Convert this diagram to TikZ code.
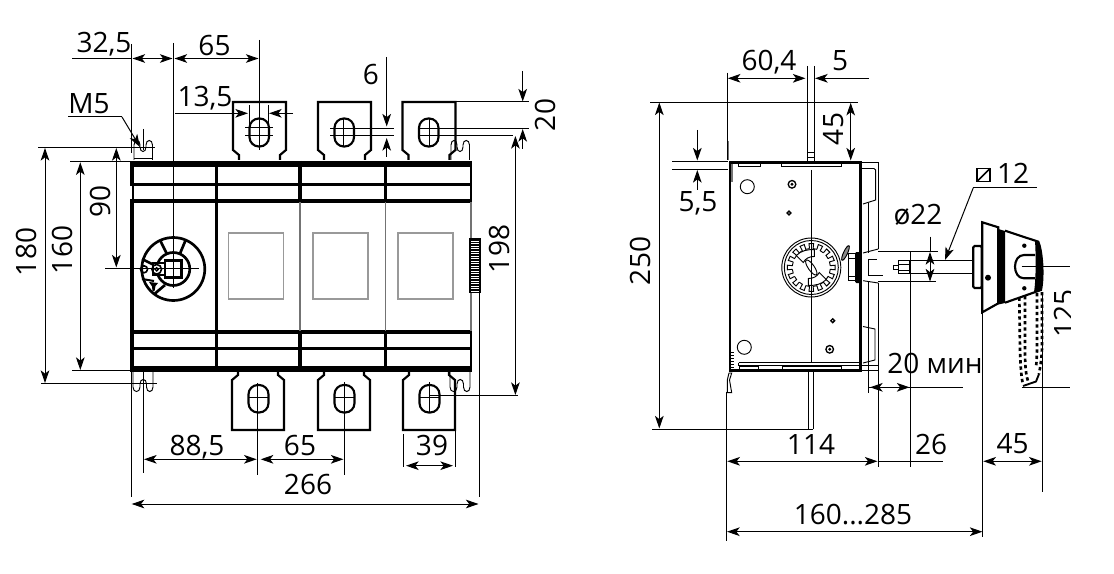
\documentclass[tikz,border=0pt]{standalone}
\usepackage{fontspec}
\setmainfont{Open Sans}
\usetikzlibrary{arrows.meta,positioning}

\begin{document}
\begin{tikzpicture}[x=0.75pt,y=-0.75pt,>={Stealth[length=9.5pt,width=6.5pt,inset=2.5pt]}]
\tikzstyle{dim line}=[line width=0.75pt]
\tikzstyle{dim arrow}=[line width=0.75pt,<->]
\tikzstyle{thin part}=[line width=0.7pt]
\tikzstyle{part}=[line width=1.6pt]
\tikzstyle{knob part}=[line width=2pt]

\tikzset{
	dim label/.style={inner sep=0,text height=15.5pt,text depth=0pt,font=\fontsize{21}{24}\selectfont},
	side label/.style={dim label,rotate=90},
	grey part/.style={line width=0.8pt,draw=black!55},
	window/.style={line width=1pt,draw=black!40},
	dashed handle/.style={line width=2pt,dash pattern=on 2.5pt off 2.2pt}
}

\useasboundingbox (0,0) rectangle (1114,574);

% front view, body
\foreach \by/\bw in {164/5pt,184.5/2.8pt,200.7/3pt,332/2.5pt,348.5/2.3pt,369/4pt}
	\draw[line width=\bw] (130,\by) -- (472,\by);
\draw[line width=3pt] (132,161) -- (132,186);
\draw[line width=1.8pt] (133,186) -- (133,199);
\draw[line width=3pt] (132,199) -- (132,371);
\draw[line width=2.3pt] (216.5,161) -- (216.5,371);
\foreach \bx in {300,385.5} {
	\draw[line width=2.5pt] (\bx,161) -- (\bx,202);
	\draw[line width=2.5pt] (\bx,331) -- (\bx,371);
	\draw[grey part] (\bx,202) -- (\bx,331);
}
\draw[line width=2pt] (471,161) -- (471,202);
\draw[line width=2pt] (471,331) -- (471,371);
\draw[grey part] (471,202) -- (471,331);
\foreach \wx in {228.5,313,398}
	\draw[window] (\wx,233) rectangle (\wx+55,299);

\fill (469,238) rectangle (481,293);
\foreach \ty in {241,243.5,...,291}
	\draw[white,line width=0.6pt] (471,\ty) -- (479,\ty);

% terminals
\foreach \lx in {233,318,402.5} {
	\draw[part] (\lx+6,160) -- (\lx+6,155) -- (\lx,150) -- (\lx,102) -- (\lx+53,102) -- (\lx+53,150) -- (\lx+47,155) -- (\lx+47,160);
	\draw[part,rounded corners=7pt] (\lx+16.5,118.5) rectangle (\lx+36,146.5);
}
\foreach \lx in {232,318,403} {
	\draw[part] (\lx+6,371) -- (\lx+6,375) -- (\lx,380) -- (\lx,430) -- (\lx+52,430) -- (\lx+52,380) -- (\lx+46,375) -- (\lx+46,371);
	\draw[part,rounded corners=7pt] (\lx+16.5,385) rectangle (\lx+36.5,412.5);
	\draw[thin part] (\lx+17,397) -- (\lx+36,397);
}

% clips
\foreach \cx in {133,450} {
	\draw[thin part] (\cx,372) -- (\cx,387) .. controls (\cx,393) and (\cx+7,393) .. (\cx+7,387) -- (\cx+7,384) .. controls (\cx+7,378) and (\cx+13.5,378) .. (\cx+13.5,384) -- (\cx+13.5,387) .. controls (\cx+13.5,393) and (\cx+20,393) .. (\cx+20,387) -- (\cx+20,372);
	\draw[thin part] (\cx+1,160) -- (\cx+1,145) .. controls (\cx+1,139) and (\cx+7,139) .. (\cx+7,145) -- (\cx+7,147) .. controls (\cx+7,153) and (\cx+13,153) .. (\cx+13,147) -- (\cx+13,145) .. controls (\cx+13,139) and (\cx+19.5,139) .. (\cx+19.5,145) -- (\cx+19.5,160);
}
\draw[thin part] (134,158) -- (152,158);

% knob
\draw[knob part] (173.3,269) circle (31.5);
\draw[knob part] (173.3,269) circle (16.5);
\draw[fill=white,line width=1.5pt] (153.3,263.3) rectangle (165,275);
\draw[knob part] (165,260.5) rectangle (181.5,277.5);
\draw[knob part] (160,240) -- (166.7,253.5);
\draw[knob part] (185.7,240) -- (180,253.5);
\draw[knob part] (142,259) -- (154,265);
\draw[knob part] (155,293.5) -- (165,285);
\draw[line width=1.5pt] (142,279) -- (154,281);
\draw[line width=1.2pt] (144,269.3) circle (3.5);
\draw[line width=1.2pt] (156.7,269.3) circle (4.8);
\draw[line width=1pt] (156.7,269.3) circle (1.6);
\fill (149,282) -- (158,283) -- (155.5,286) -- (154.5,291) -- (152.5,291) -- (152,286.5) -- cycle;

% front view, dimensions
\draw[dim line] (72,58.5) -- (132,58.5);
\draw[dim arrow] (132.5,58.5) -- (172.5,58.5);
\draw[dim arrow] (174.5,58.5) -- (258.5,58.5);
\draw[dim line] (131.7,44) -- (131.7,153);
\draw[dim line] (131.7,372) -- (131.7,497);
\draw[dim line] (173.3,43) -- (173.3,288);
\draw[dim line] (259,40) -- (259,150);
\draw[->,dim line] (175,113.3) -- (248,113.3);
\draw[->,dim line] (293,113.3) -- (269,113.3);
\draw[dim line] (249.5,105) -- (249.5,137);
\draw[dim line] (268,105) -- (268,137);
\draw[dim line] (245,128) -- (273,128);
\draw[dim line] (245,136) -- (273,136);
\draw[dim line] (343.3,118) -- (343.3,147);
\draw[dim line] (330,128.3) -- (394,128.3);
\draw[dim line] (330,136) -- (394,136);
\draw[dim line] (429,119) -- (429,147);
\draw[->,dim line] (386.7,57) -- (386.7,126.5);
\draw[->,dim line] (386.7,157) -- (386.7,138);
\draw[dim line] (455,102) -- (529,102);
\draw[dim line] (420,128.3) -- (529,128.3);
\draw[dim line] (420,136) -- (513,136);
\draw[->,dim line] (522.7,71) -- (522.7,101.5);
\draw[->,dim line] (522.7,149) -- (522.7,129);
\draw[dim arrow] (515.4,136) -- (515.4,395);
\draw[dim line] (429.5,395) -- (518,395);
\draw[dim line] (38,147.5) -- (155,147.5);
\draw[dim line] (41,383) -- (157,383);
\draw[dim line] (70,162) -- (130,162);
\draw[dim line] (72,370) -- (130,370);
\draw[dim line] (105,268.5) -- (199,268.5);
\draw[dim arrow] (45,148) -- (45,383);
\draw[dim arrow] (80.3,162.3) -- (80.3,370);
\draw[dim arrow] (116.3,148) -- (116.3,267.5);
\draw[dim line] (68,117) -- (122,117);
\draw[->,dim line] (122,117) -- (140,147);
\draw[dim line] (143.5,129) -- (143.5,150);
\draw[dim line] (143.3,372) -- (143.3,473);
\draw[dim line] (257.5,383) -- (257.5,475);
\draw[dim line] (344.5,382) -- (344.5,475);
\draw[dim line] (429.5,382) -- (429.5,412);
\draw[dim arrow] (144,459.3) -- (256.7,459.3);
\draw[dim arrow] (260.7,459.3) -- (343.5,459.3);
\draw[dim line] (403.5,434) -- (403.5,467);
\draw[dim line] (455.5,430) -- (455.5,467);
\draw[dim arrow] (406,465.7) -- (453,465.7);
\draw[dim line] (479.3,293) -- (479.3,497);
\draw[dim arrow] (131.7,504) -- (478.5,504);

\node[dim label] (l325) at (104,42) {32,5};
\node[dim label] (l65a) at (214.5,45) {65};
\node[dim label] (l135) at (205,96) {13,5};
\node[dim label] (lm5) at (89,103) {M5};
\node[dim label] (l6) at (371,74) {6};
\node[side label] (l20) at (545,115) {20};
\node[side label] (l198) at (499,249) {198};
\node[side label] (l90) at (100,201.5) {90};
\node[side label] (l160) at (62,250) {160};
\node[side label] (l180) at (26,252) {180};
\node[dim label] (l885) at (197,445) {88,5};
\node[dim label] (l65b) at (300,445) {65};
\node[dim label] (l39) at (432,445) {39};
\node[dim label] (l266) at (308,484) {266};

% side view, body
\draw[line width=2.5pt] (729.7,162.5) -- (860.5,162.5);
\draw[line width=2.5pt] (729.7,370.5) -- (860.5,370.5);
\draw[line width=2.1pt] (730,161.5) -- (730,371.5);
\draw[line width=2.1pt] (860.3,161.5) -- (860.3,371.5);
\draw[grey part,line width=1.4pt] (728.3,141) -- (728.3,160);
\draw[grey part,line width=1.4pt] (732,164) -- (732,182);
\foreach \my in {352,355,...,367}
	\draw[thin part] (731,\my) -- (733.5,\my);
\draw[thin part] (738.5,164) -- (738.5,166.5) -- (760,166.5) -- (760,164);
\draw[thin part] (781.7,164) -- (781.7,166.5) -- (841.7,166.5) -- (841.7,164);
\draw[thin part] (738.5,362.7) -- (859,362.7);
\draw[thin part] (738.5,362.7) -- (738.5,365) -- (859,365);
\draw[thin part] (739,369) -- (739,366.5) -- (758,366.5) -- (758,369);
\draw[thin part] (782.7,369) -- (782.7,366.5) -- (841.7,366.5) -- (841.7,369);
\draw[thin part] (727.3,392.7) -- (727.3,380) -- (729,373) -- (731.7,373) -- (729.5,380) -- (731.7,392.7) -- cycle;
\draw[thin part] (747.3,186.7) circle (7);
\draw[thin part] (744.3,347.3) circle (7);
\foreach \sx/\sy in {792/184.3,829.7/349.3} {
	\draw[line width=1pt] (\sx,\sy) circle (3.8);
	\fill (\sx,\sy) circle (1.6);
}
\draw[line width=1pt] (789,213) circle (1.9);
\draw[line width=1pt] (832.7,320.7) circle (1.9);

% gear
\begin{scope}[shift={(811.3,267.5)}]
\draw[thin part] (0,0) circle (29.5);
\draw[thin part] (0,0) circle (27);
\foreach \ga in {0,22.5,...,337.5}
	\draw[thin part] ({\ga-5.5}:19) -- ({\ga-5.5}:24) -- ({\ga+5.5}:24) -- ({\ga+5.5}:19) -- ({\ga+17}:19);
\draw[thin part,fill=white] (-15,-12) .. controls (-10,-17) and (-4,-18) .. (3,-18) -- (3,-11) .. controls (-2,-11) and (-6,-9) .. (-8,-5) -- cycle;
\draw[thin part,fill=white] (15,12) .. controls (10,17) and (4,18) .. (-3,18) -- (-3,11) .. controls (2,11) and (6,9) .. (8,5) -- cycle;
\draw[thin part,fill=white,rotate=-55] (0,0) ellipse (9 and 3);
\end{scope}

% side plate and shaft
\draw[thin part] (861.7,162.7) -- (878.3,162.7) -- (878.3,249);
\draw[thin part] (862,168.5) -- (874,168.5) -- (875.7,170) -- (875.7,200) -- (863,204);
\draw[thin part] (863,326.5) -- (875,329) -- (875,360) -- (863,363);
\draw[thin part] (862,365) -- (878.3,365);
\draw[thin part] (878.3,283) -- (878.3,370) -- (861,370);
\draw[thin part] (863,253) -- (878.3,249);
\draw[thin part] (863,280.7) -- (878.3,283);
\draw[dim line] (868.3,203) -- (868.3,253);
\draw[dim line] (868.3,281) -- (868.3,392.5);
\draw[dim line] (878.3,370) -- (878.3,466.7);
\draw[dim line] (878.3,251) -- (910,251);
\draw[dim line] (878.3,281.7) -- (936,281.7);
\draw[dim line] (910.3,251) -- (910.3,466.7);
\draw[dim line] (910,251.7) -- (937.7,251.7);
\draw[dim line] (910,260) -- (973,260);
\draw[dim line] (910,273.3) -- (973,273.3);
\draw[thin part] (868.3,259.5) -- (877,259.5);
\draw[thin part] (868.3,260) -- (868.3,276);
\draw[thin part] (868.3,275) -- (882.5,275);
\draw[thin part] (898.5,260) rectangle (909,273.3);
\draw[thin part] (893.5,265) rectangle (898.5,269.5);
\draw[thin part] (898.5,264) -- (909,264);
\draw[thin part] (898.5,270) -- (909,270);
\fill[rounded corners=1pt] (855,252) rectangle (861.7,283);
\draw[thin part] (848,253) rectangle (855,280);
\draw[thin part] (848,258) -- (855,258);
\draw[thin part] (848,276) -- (855,276);
\draw[thin part,fill=black!45,rotate around={-25:(845.5,253)}] (845.5,253) ellipse (2 and 8);

% handle
\draw[part,rounded corners=1pt] (973.3,246) rectangle (981.7,288);
\draw[part,fill=white] (982.3,222.3) -- (998.3,227.3) -- (998.3,303.3) -- (982.3,312.3) -- cycle;
\fill (998.3,229) -- (1005,231) -- (1005,303) -- (998.3,304.5) -- cycle;
\draw[part] (1005,230.7) -- (1038.3,241.7) .. controls (1042,250) and (1044,275) .. (1041,290) -- (1005,302.7);
\fill (1038,241.7) .. controls (1042.5,250) and (1044.5,275) .. (1041,290) -- (1034,292) .. controls (1036,280) and (1036,255) .. (1035,240.7) -- cycle;
\draw[part] (1035,255) -- (1024,255) .. controls (1012,255) and (1012,278.3) .. (1024,278.3) -- (1035,278.3);
\fill (1024.3,245.7) circle (2.2);
\fill (1024.3,288.3) circle (2.2);
\fill (988,277.7) circle (3);
\draw[dashed handle] (1019.3,297.5) -- (1020,350) .. controls (1020.5,365) and (1021,375) .. (1023,385);
\draw[dashed handle] (1025,296) -- (1025,345) .. controls (1025,360) and (1025,372) .. (1028,381);
\draw[dashed handle] (1042,292) -- (1042,345) .. controls (1042,358) and (1040,368) .. (1039,374);
\draw[dashed handle] (1037,293) -- (1037,345) .. controls (1037,355) and (1036.5,362) .. (1036,368);
\draw[line width=1.4pt] (1023,386) -- (1036,381.5) -- (1039,374);

% side view, dimensions
\draw[dim line] (727.3,72.7) -- (727.3,160);
\draw[dim line] (807.3,66) -- (807.3,161);
\draw[dim line] (814.3,66) -- (814.3,161);
\draw[line width=1.2pt] (807.3,102) -- (807.3,122);
\draw[line width=1.2pt] (814.3,102) -- (814.3,122);
\draw[thin part] (807.3,152) -- (814.3,152);
\draw[thin part] (807.3,157) -- (814.3,157);
\draw[dim arrow] (727.8,78.3) -- (805.5,78.3);
\draw[->,dim line] (869,78.3) -- (815,78.3);
\draw[dim line] (811.7,170) -- (811.7,362);
\draw[dim line] (808.3,372) -- (808.3,429.3);
\draw[dim line] (813.3,372) -- (813.3,429.3);
\draw[dim line] (650,102.3) -- (857.7,102.3);
\draw[dim line] (652,429.3) -- (813.3,429.3);
\draw[dim arrow] (659.3,102.5) -- (659.3,428.5);
\draw[dim arrow] (850.7,102.8) -- (850.7,160.5);
\draw[dim line] (672,161.3) -- (728,161.3);
\draw[dim line] (672,169.3) -- (728,169.3);
\draw[->,dim line] (697.3,130) -- (697.3,160.5);
\draw[->,dim line] (697.3,190) -- (697.3,170);
\draw[dim line] (930,236.7) -- (930,251.7);
\draw[dim arrow] (930,252) -- (930,281.5);
\draw[dim line] (973.3,187.7) -- (1036.7,187.7);
\draw[->,dim line] (973.3,187.7) -- (945,260);
\draw[dim line] (982.5,312) -- (982.5,536.7);
\draw[dim line] (1042.5,293) -- (1042.5,491.7);
\draw[dim line] (1021.7,266.7) -- (1070,266.7);
\draw[dim line] (1021.7,387.3) -- (1070,387.3);
\draw[dim line] (868.3,387.3) -- (962.7,387.3);
\draw[dim arrow] (870,387.3) -- (909.5,387.3);
\draw[dim line] (878,461.3) -- (943,461.3);
\draw[dim arrow] (727.3,461.3) -- (877.5,461.3);
\draw[dim arrow] (983.3,461.3) -- (1041.7,461.3);
\draw[dim line] (726.5,391.7) -- (726.5,540.7);
\draw[dim arrow] (727,531.7) -- (982.5,531.7);

\draw[line width=1.3pt] (977,168.5) rectangle (990,181.5);
\draw[line width=1.1pt] (977,181.5) -- (990,168.5);

\node[dim label] (l604) at (769,60) {60,4};
\node[dim label] (l5) at (840,60) {5};
\node[side label] (l45a) at (833,129) {45};
\node[dim label] (l55) at (698,201) {5,5};
\node[side label] (l250) at (640,261) {250};
\node[dim label] (l12) at (1013,173) {12};
\node[dim label] (l22) at (918,214) {ø22};
\node[dim label] (l20m) at (935,363) {20 мин};
\begin{scope}
\clip (0,0) rectangle (1070,574);
\node[side label] (l125) at (1064,313.5) {125};
\end{scope}
\node[dim label] (l114) at (811,444) {114};
\node[dim label] (l26) at (931,444) {26};
\node[dim label] (l45b) at (1012.5,443) {45};
\node[dim label] (l160b) at (853,514) {160...285};

\end{tikzpicture}
\end{document}
